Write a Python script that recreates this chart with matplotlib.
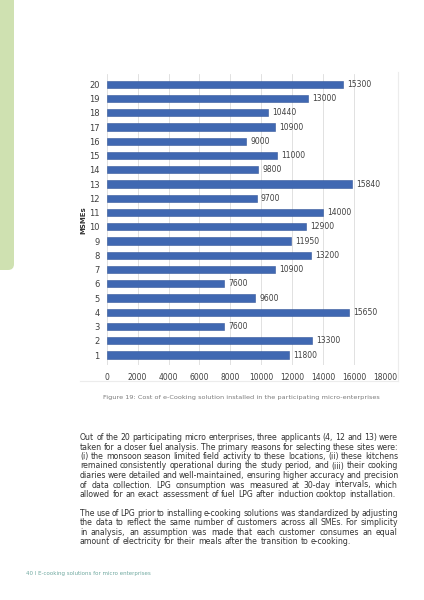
import matplotlib
matplotlib.use("Agg")
import matplotlib.pyplot as plt
from matplotlib.patches import FancyBboxPatch
from matplotlib.lines import Line2D

# ---- data ----
msme_ids = list(range(1, 21))
cost = [11800, 13300, 7600, 15650, 9600, 7600, 10900, 13200, 11950, 12900,
        14000, 9700, 15840, 9800, 11000, 9000, 10900, 10440, 13000, 15300]
x_ticks = [0, 2000, 4000, 6000, 8000, 10000, 12000, 14000, 16000, 18000]

caption = "Figure 19: Cost of e-Cooking solution installed in the participating micro-enterprises"
para1 = [
    "Out of the 20 participating micro enterprises, three applicants (4, 12 and 13) were",
    "taken for a closer fuel analysis. The primary reasons for selecting these sites were:",
    "(i) the monsoon season limited field activity to these locations, (ii) these kitchens",
    "remained consistently operational during the study period, and (iii) their cooking",
    "diaries were detailed and well-maintained, ensuring higher accuracy and precision",
    "of data collection. LPG consumption was measured at 30-day intervals, which",
    "allowed for an exact assessment of fuel LPG after induction cooktop installation.",
]
para2 = [
    "The use of LPG prior to installing e-cooking solutions was standardized by adjusting",
    "the data to reflect the same number of customers across all SMEs. For simplicity",
    "in analysis, an assumption was made that each customer consumes an equal",
    "amount of electricity for their meals after the transition to e-cooking.",
]
footer = "40 I E-cooking solutions for micro enterprises"

W, H = 424, 600
fig = plt.figure(figsize=(W / 100, H / 100), dpi=100)

# page layer in pixel coordinates
bg = fig.add_axes([0, 0, 1, 1], zorder=0)
bg.set_xlim(0, W)
bg.set_ylim(H, 0)
bg.axis("off")

# green side tab
bg.add_patch(FancyBboxPatch((-20, -20), 34, 290, boxstyle="round,pad=0,rounding_size=6",
                            fc="#cfe1b1", ec="none"))

# faint frame of the embedded chart
bg.add_line(Line2D([398, 398], [72, 381], color="#ececec", lw=0.8))
bg.add_line(Line2D([80, 398], [381, 381], color="#ececec", lw=0.8))

# ---- bar chart ----
chart_font = ["Liberation Sans Narrow", "DejaVu Sans"]
ax = fig.add_axes([106.7 / W, 1 - 365 / H, (385 - 106.7) / W, (365 - 74.3) / H], zorder=1)
ax.barh(msme_ids, cost, height=0.5, color="#4068b2", edgecolor="#34579a", linewidth=0.4, zorder=3)
for y, v in zip(msme_ids, cost):
    ax.annotate(str(v), (v, y), xytext=(3, 0), textcoords="offset points",
                va="center", ha="left", fontsize=5.5, color="#404040", family=chart_font)

ax.set_xlim(0, 18000)
ax.set_ylim(0.3, 20.7)
ax.set_xticks(x_ticks)
ax.set_xticklabels([str(t) for t in x_ticks], family=chart_font, fontsize=5.5, color="#404040")
ax.set_yticks(msme_ids)
ax.set_yticklabels([str(i) for i in msme_ids], family=chart_font, fontsize=6, color="#404040")
ax.tick_params(axis="both", length=0)
ax.tick_params(axis="x", pad=6)
ax.tick_params(axis="y", pad=5)
ax.grid(axis="x", color="#dcdcdc", lw=0.6, zorder=0)
for s in ax.spines.values():
    s.set_visible(False)
ax.set_ylabel("MSMEs", fontsize=5, fontweight="bold", color="#333333", labelpad=2)

# ---- caption ----
bg.text(241, 397, caption, ha="center", va="center", fontsize=4.65, color="#7a7a7a",
        family="DejaVu Sans")

# ---- body text, justified ----
renderer = fig.canvas.get_renderer()
body_size = 5.6
left, right = 80, 398


def word_width(w):
    t = bg.text(0, 0, w, fontsize=body_size, family="DejaVu Sans")
    wd = t.get_window_extent(renderer).width
    t.remove()
    return wd


space_w = word_width("a b") - word_width("ab")


def draw_para(lines, y0, step):
    for i, line in enumerate(lines):
        words = line.split(" ")
        widths = [word_width(w) for w in words]
        y = y0 + i * step
        last = i == len(lines) - 1
        if last or len(words) < 2:
            gap = space_w
        else:
            gap = max((right - left - sum(widths)) / (len(words) - 1), 0.45 * space_w)
        x = left
        for w, wd in zip(words, widths):
            bg.text(x, y, w, fontsize=body_size, family="DejaVu Sans", color="#333333",
                    ha="left", va="center")
            x += wd + gap


draw_para(para1, 437.5, 9.5)
draw_para(para2, 513, 9.6)

# ---- footer ----
bg.text(26, 573, footer, ha="left", va="center", fontsize=4.0, color="#6fa89f",
        family="DejaVu Sans")

fig.savefig("out.png", dpi=100)
